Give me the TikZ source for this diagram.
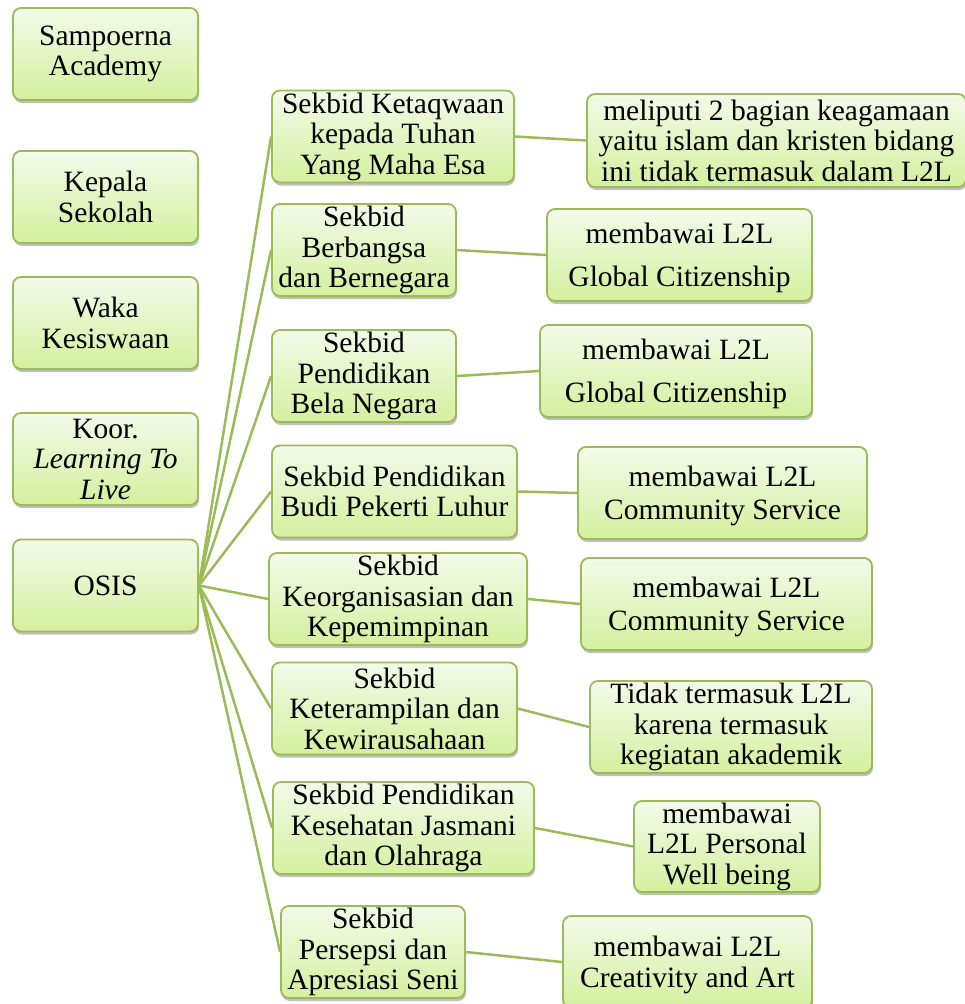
\documentclass[tikz,border=0pt]{standalone}
\usepackage{fontspec}
\setmainfont{Liberation Serif}
\usepackage{tikz}
\usetikzlibrary{shadows}

\definecolor{boxline}{RGB}{155,187,89}
\definecolor{boxtop}{RGB}{243,250,234}
\definecolor{boxbottom}{RGB}{212,240,158}

\begin{document}
\begin{tikzpicture}[
            x = 1pt, y = -1pt, % one unit per pixel, counted from the top
            font = \fontsize{29.5}{30.5}\selectfont, % text size
            line join = round
        ]

        \tikzstyle{box}=[
            draw = boxline,
            line width = 1.8pt,
            rounded corners = 8pt,
            top color = boxtop,
            bottom color = boxbottom,
            drop shadow = {shadow xshift = 1pt, shadow yshift = -3pt,
                           opacity = 0.25, fill = black},
            align = center,
            inner sep = 0pt,
            minimum height = 92pt
        ]
        \tikzstyle{lowtext}=[
            text depth = -5pt % two lines sit a bit lower
        ]
        \tikzstyle{link}=[
            draw = boxline,
            line width = 2.5pt
        ]

        \useasboundingbox (0,0) rectangle (964,1004);

        % left column
        \node[box, minimum width = 185pt] (sa)   at (105.5,54)  {Sampoerna\\Academy};
        \node[box, minimum width = 185pt] (ks)   at (105.5,197) {Kepala\\Sekolah};
        \node[box, minimum width = 185pt] (waka) at (105.5,323) {Waka\\Kesiswaan};
        \node[box, minimum width = 185pt] (koor) at (105.5,459) {Koor.\\\textit{Learning To}\\\textit{Live}};
        \node[box, minimum width = 185pt] (osis) at (105.5,585.5) {OSIS};

        % sekbid
        \node[box, minimum width = 242pt] (s1) at (393,136.5) {Sekbid Ketaqwaan\\kepada Tuhan\\Yang Maha Esa};
        \node[box, minimum width = 184pt] (s2) at (364,250)   {Sekbid\\Berbangsa\\dan Bernegara};
        \node[box, minimum width = 184pt] (s3) at (364,376)   {Sekbid\\Pendidikan\\Bela Negara};
        \node[box, minimum width = 245pt] (s4) at (394.5,491.5) {Sekbid Pendidikan\\Budi Pekerti Luhur};
        \node[box, minimum width = 258pt] (s5) at (398,599)   {Sekbid\\Keorganisasian dan\\Kepemimpinan};
        \node[box, minimum width = 245pt] (s6) at (394.5,708.5) {Sekbid\\Keterampilan dan\\Kewirausahaan};
        \node[box, minimum width = 261pt] (s7) at (403.5,828) {Sekbid Pendidikan\\Kesehatan Jasmani\\dan Olahraga};
        \node[box, minimum width = 184pt] (s8) at (373,952)   {Sekbid\\Persepsi dan\\Apresiasi Seni};

        % keterangan
        \node[box, minimum width = 379pt, minimum height = 93pt] (k1) at (776.5,140.5)
            {meliputi 2 bagian keagamaan\\yaitu islam dan kristen bidang\\ini tidak termasuk dalam L2L};
        \node[box, lowtext, minimum width = 265pt] (k2) at (679.5,255)   {membawai L2L\\[12pt]Global Citizenship};
        \node[box, lowtext, minimum width = 272pt] (k3) at (676,371)     {membawai L2L\\[12pt]Global Citizenship};
        \node[box, lowtext, minimum width = 289pt] (k4) at (722.5,493)   {membawai L2L\\[2.5pt]Community Service};
        \node[box, lowtext, minimum width = 291pt] (k5) at (726.5,604)   {membawai L2L\\[2.5pt]Community Service};
        \node[box, minimum width = 282pt] (k6) at (731,727)     {Tidak termasuk L2L\\karena termasuk\\kegiatan akademik};
        \node[box, minimum width = 186pt, minimum height = 91pt] (k7) at (727,846.5)
            {membawai\\L2L Personal\\Well being};
        \node[box, lowtext, minimum width = 249pt] (k8) at (687.5,962)   {membawai L2L\\Creativity and Art};

        \path[link] (osis.east) edge (s1.west);
        \path[link] (osis.east) edge (s2.west);
        \path[link] (osis.east) edge (s3.west);
        \path[link] (osis.east) edge (s4.west);
        \path[link] (osis.east) edge (s5.west);
        \path[link] (osis.east) edge (s6.west);
        \path[link] (osis.east) edge (s7.west);
        \path[link] (osis.east) edge (s8.west);

        \path[link] (s1.east) edge (k1.west);
        \path[link] (s2.east) edge (k2.west);
        \path[link] (s3.east) edge (k3.west);
        \path[link] (s4.east) edge (k4.west);
        \path[link] (s5.east) edge (k5.west);
        \path[link] (s6.east) edge (k6.west);
        \path[link] (s7.east) edge (k7.west);
        \path[link] (s8.east) edge (k8.west);

\end{tikzpicture}
\end{document}
